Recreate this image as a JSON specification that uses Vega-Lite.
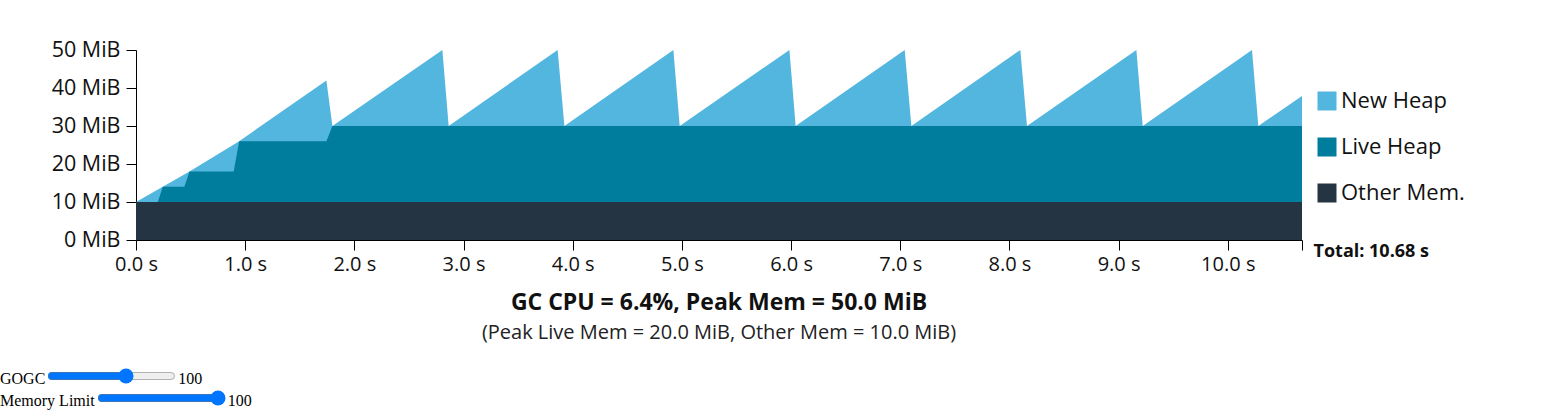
{
  "$schema": "https://vega.github.io/schema/vega-lite/v6.json",
  "autosize": {"type": "none"},
  "width": 1166,
  "height": 190,
  "padding": {"left": 136, "top": 50, "right": 243, "bottom": 126},
  "background": "white",
  "config": {
    "font": "Open Sans",
    "view": {"stroke": null},
    "axis": {"domainColor": "#000", "tickColor": "#000", "labelColor": "#111", "grid": false, "tickSize": 10, "domainWidth": 1, "tickWidth": 1}
  },
  "title": {
    "text": "GC CPU = 6.4%, Peak Mem = 50.0 MiB",
    "subtitle": "(Peak Live Mem = 20.0 MiB, Other Mem = 10.0 MiB)",
    "orient": "bottom",
    "anchor": "middle",
    "frame": "group",
    "offset": 18,
    "fontSize": 23,
    "fontWeight": "bold",
    "color": "#111",
    "subtitleFontSize": 20,
    "subtitleColor": "#222",
    "subtitlePadding": 8
  },
  "params": [
    {"name": "gogc", "value": 100, "bind": {"input": "range", "min": 0, "max": 160, "step": 1, "name": "GOGC"}},
    {"name": "memlimit", "value": 100, "bind": {"input": "range", "min": 10, "max": 100, "step": 0.1, "name": "Memory Limit"}}
  ],
  "data": {"values": [
    {"s": "New Heap", "t": 0, "v": 10},
    {"s": "New Heap", "t": 0.245, "v": 14},
    {"s": "New Heap", "t": 0.49, "v": 18},
    {"s": "New Heap", "t": 0.945, "v": 26},
    {"s": "New Heap", "t": 1.744, "v": 42},
    {"s": "New Heap", "t": 1.799, "v": 30},
    {"s": "New Heap", "t": 2.806, "v": 50},
    {"s": "New Heap", "t": 2.864, "v": 30},
    {"s": "New Heap", "t": 3.862, "v": 50},
    {"s": "New Heap", "t": 3.924, "v": 30},
    {"s": "New Heap", "t": 4.922, "v": 50},
    {"s": "New Heap", "t": 4.98, "v": 30},
    {"s": "New Heap", "t": 5.985, "v": 50},
    {"s": "New Heap", "t": 6.042, "v": 30},
    {"s": "New Heap", "t": 7.041, "v": 50},
    {"s": "New Heap", "t": 7.102, "v": 30},
    {"s": "New Heap", "t": 8.1, "v": 50},
    {"s": "New Heap", "t": 8.161, "v": 30},
    {"s": "New Heap", "t": 9.163, "v": 50},
    {"s": "New Heap", "t": 9.221, "v": 30},
    {"s": "New Heap", "t": 10.222, "v": 50},
    {"s": "New Heap", "t": 10.28, "v": 30},
    {"s": "New Heap", "t": 10.68, "v": 37.9},
    {"s": "Live Heap", "t": 0, "v": 10},
    {"s": "Live Heap", "t": 0.2, "v": 10},
    {"s": "Live Heap", "t": 0.245, "v": 14},
    {"s": "Live Heap", "t": 0.443, "v": 14},
    {"s": "Live Heap", "t": 0.49, "v": 18},
    {"s": "Live Heap", "t": 0.895, "v": 18},
    {"s": "Live Heap", "t": 0.945, "v": 26},
    {"s": "Live Heap", "t": 1.744, "v": 26},
    {"s": "Live Heap", "t": 1.799, "v": 30},
    {"s": "Live Heap", "t": 10.68, "v": 30},
    {"s": "Other Mem.", "t": 0, "v": 10},
    {"s": "Other Mem.", "t": 10.68, "v": 10}
  ]},
  "encoding": {
    "x": {"field": "t", "type": "quantitative",
      "scale": {"domain": [0, 10.68], "nice": false, "zero": false},
      "axis": {
        "title": null,
        "values": [0, 1, 2, 3, 4, 5, 6, 7, 8, 9, 10, 10.68],
        "labelExpr": "datum.value > 10.5 ? 'Total: ' + format(datum.value, '.2f') + ' s' : format(datum.value, '.1f') + ' s'",
        "labelFlush": false,
        "labelOverlap": false,
        "labelBound": false,
        "labelFontSize": {"condition": {"test": "datum.value > 10.5", "value": 18}, "value": 20},
        "labelFontWeight": {"condition": {"test": "datum.value > 10.5", "value": "bold"}, "value": "normal"},
        "labelAlign": {"condition": {"test": "datum.value > 10.5", "value": "left"}, "value": "center"},
        "labelOffset": {"condition": {"test": "datum.value > 10.5", "value": 11}, "value": 0},
        "labelPadding": {"condition": {"test": "datum.value > 10.5", "value": -8}, "value": 4}
      }
    },
    "y": {"field": "v", "type": "quantitative",
      "scale": {"domain": [0, 50], "nice": false},
      "stack": null,
      "axis": {"title": null, "values": [0, 10, 20, 30, 40, 50], "labelExpr": "datum.value + ' MiB'", "labelFontSize": 21.5, "labelPadding": 6}
    },
    "color": {"field": "s", "type": "nominal",
      "scale": {"domain": ["New Heap", "Live Heap", "Other Mem."], "range": ["#52B6DF", "#007D9C", "#253443"]},
      "legend": {"title": null, "orient": "none", "legendX": 1180, "legendY": 40, "padding": 0,
        "symbolType": "square", "symbolSize": 361, "symbolStrokeWidth": 0, "symbolOpacity": 1,
        "labelFontSize": 22, "labelColor": "#111", "labelOffset": 3, "rowPadding": 24}
    }
  },
  "layer": [
    {"transform": [{"filter": "datum.s === 'New Heap'"}], "mark": {"type": "area", "opacity": 1}},
    {"transform": [{"filter": "datum.s === 'Live Heap'"}], "mark": {"type": "area", "opacity": 1}},
    {"transform": [{"filter": "datum.s === 'Other Mem.'"}], "mark": {"type": "area", "opacity": 1}}
  ]
}
